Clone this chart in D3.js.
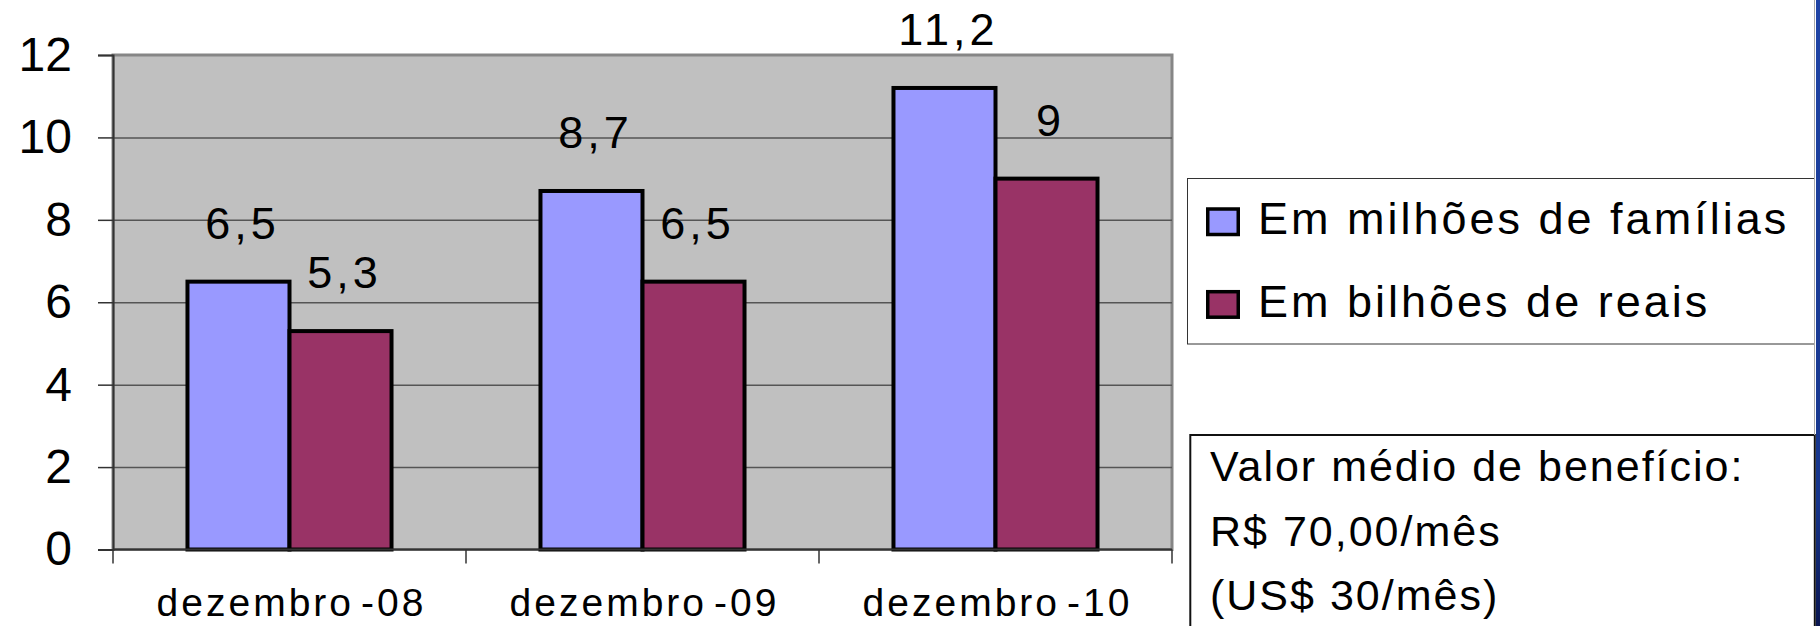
<!DOCTYPE html>
<html>
<head>
<meta charset="utf-8">
<script src="https://cdn.jsdelivr.net/npm/d3@7"></script>
<style>
  html, body { margin: 0; padding: 0; background: #fff; }
  svg { display: block; font-family: "Liberation Sans", Arial, sans-serif; }
</style>
</head>
<body>
<svg id="chart" width="1820" height="626"></svg>
<script>
'use strict';
// data
const categories = ['dezembro-08', 'dezembro-09', 'dezembro-10'];
const seriesNames = ['Em milhões de famílias', 'Em bilhões de reais'];
const familias = [6.5, 8.7, 11.2];
const reais = [5.3, 6.5, 9];
const yTicks = [0, 2, 4, 6, 8, 10, 12];
const infoLines = ['Valor médio de benefício:', 'R$ 70,00/mês', '(US$ 30/mês)'];

var chart = (function() {
    var exports = {},
        _svg = d3.select('#chart'),
        _plot = {left: 113, right: 1172, top: 55, bottom: 549.5},
        _colors = ['#9999FF', '#993366'],
        _x0, _x1, _y,
        _fmt = d3.formatLocale({decimal: ',', thousands: '.', grouping: [3], currency: ['R$', '']}).format('~g')
    ;
    exports.draw = function() {
        var series = [familias, reais];
        var rows = categories.map(function(c, i) {
            return {cat: c, values: series.map(function(s, k) { return {k: k, v: s[i]}; })};
        });

        _x0 = d3.scaleBand().domain(categories).range([_plot.left, _plot.right]).padding(0);
        _x1 = d3.scaleBand().domain([0, 1]).range([0, _x0.bandwidth()]).paddingInner(0).paddingOuter(0.73);
        _y = d3.scaleLinear().domain([0, 12]).range([_plot.bottom, _plot.top]);

        // plot area
        _svg.append('rect')
            .attr('x', _plot.left).attr('y', _plot.top)
            .attr('width', _plot.right - _plot.left)
            .attr('height', _plot.bottom - _plot.top)
            .attr('fill', '#C0C0C0')
            .attr('stroke', '#868686')
            .attr('stroke-width', 3);

        // gridlines
        _svg.append('g')
            .attr('transform', 'translate(' + _plot.left + ',0)')
            .call(d3.axisLeft(_y).tickValues(yTicks.filter(function(t) { return t > 0 && t < 12; }))
                .tickSize(-(_plot.right - _plot.left)).tickFormat(''))
            .call(function(g) {
                g.select('.domain').remove();
                g.selectAll('.tick line').attr('stroke', '#555').attr('stroke-width', 1.5);
            });

        // bars
        var groups = _svg.append('g').selectAll('g')
            .data(rows).enter().append('g')
            .attr('transform', function(d) { return 'translate(' + _x0(d.cat) + ',0)'; });
        groups.selectAll('rect')
            .data(function(d) { return d.values; }).enter().append('rect')
            .attr('x', function(d) { return _x1(d.k); })
            .attr('y', function(d) { return _y(d.v); })
            .attr('width', _x1.bandwidth())
            .attr('height', function(d) { return _y(0) - _y(d.v); })
            .attr('fill', function(d) { return _colors[d.k]; })
            .attr('stroke', '#000')
            .attr('stroke-width', 4);
        groups.selectAll('text')
            .data(function(d) { return d.values; }).enter().append('text')
            .attr('x', function(d) { return _x1(d.k) + _x1.bandwidth() / 2 + 4; })
            .attr('y', function(d) { return _y(d.v) - 43; })
            .attr('text-anchor', 'middle')
            .style('font-size', '45px')
            .style('letter-spacing', '4px')
            .attr('fill', '#000')
            .text(function(d) { return _fmt(d.v); });

        // y axis
        _svg.append('g')
            .attr('transform', 'translate(' + _plot.left + ',0)')
            .call(d3.axisLeft(_y).tickValues(yTicks).tickSize(15).tickPadding(26).tickFormat(d3.format('d')))
            .call(function(g) {
                g.select('.domain').attr('stroke', '#333').attr('stroke-width', 2);
                g.selectAll('.tick line').attr('stroke', '#333').attr('stroke-width', 1.5);
                g.selectAll('.tick text').attr('fill', '#000').style('font-size', '48px')
                    .style('font-family', '"Liberation Sans", Arial, sans-serif');
            });

        // x axis: line, boundary ticks, labels
        var xa = _svg.append('g');
        xa.append('line')
            .attr('x1', _plot.left).attr('x2', _plot.right)
            .attr('y1', _plot.bottom).attr('y2', _plot.bottom)
            .attr('stroke', '#333').attr('stroke-width', 2);
        var bounds = categories.map(function(c) { return _x0(c); }).concat([_x0.range()[1]]);
        xa.selectAll('line.tick')
            .data(bounds).enter().append('line')
            .attr('class', 'tick')
            .attr('x1', function(d) { return d; }).attr('x2', function(d) { return d; })
            .attr('y1', _plot.bottom).attr('y2', _plot.bottom + 14)
            .attr('stroke', '#333').attr('stroke-width', 1.5);
        var labels = xa.selectAll('text')
            .data(categories).enter().append('text')
            .attr('x', function(d) { return _x0(d) + _x0.bandwidth() / 2 + 2; })
            .attr('y', 616)
            .attr('text-anchor', 'middle')
            .style('font-size', '39px')
            .style('letter-spacing', '3px');
        // the reference leaves a wider gap before the year part
        labels.append('tspan').text(function(d) { return d.split('-')[0]; });
        labels.append('tspan').attr('dx', 7).text(function(d) { return '-' + d.split('-')[1]; });

        // legend
        var lg = _svg.append('g');
        lg.append('rect')
            .attr('x', 1187.5).attr('y', 178.5).attr('width', 627).attr('height', 165.5)
            .attr('fill', '#fff').attr('stroke', '#333').attr('stroke-width', 1);
        var items = lg.selectAll('g.item')
            .data(seriesNames).enter().append('g')
            .attr('class', 'item')
            .attr('transform', function(d, i) { return 'translate(0,' + (i * 82.7) + ')'; });
        items.append('rect')
            .attr('x', 1207.75).attr('y', 209).attr('width', 30.5).attr('height', 25.5)
            .attr('fill', function(d, i) { return _colors[i]; })
            .attr('stroke', '#000').attr('stroke-width', 3.5);
        items.append('text')
            .attr('x', 1258).attr('y', 234)
            .style('font-size', '45px')
            .style('letter-spacing', '3px')
            .text(function(d) { return d; });

        // info box
        var ib = _svg.append('g');
        ib.append('rect')
            .attr('x', 1190.3).attr('y', 435).attr('width', 624.5).attr('height', 260)
            .attr('fill', '#fff').attr('stroke', '#111').attr('stroke-width', 2);
        ib.selectAll('text')
            .data(infoLines).enter().append('text')
            .attr('x', 1210)
            .attr('y', function(d, i) { return 481 + i * 64.5; })
            .style('font-size', '43px')
            .style('letter-spacing', '2px')
            .text(function(d) { return d; });

        // slide edge on the right
        _svg.append('line')
            .attr('x1', 1814.5).attr('x2', 1814.5).attr('y1', 0).attr('y2', 435)
            .attr('stroke', '#aaa').attr('stroke-width', 1);
        var grad = _svg.append('defs').append('linearGradient')
            .attr('id', 'edge').attr('x1', 0).attr('x2', 0).attr('y1', 0).attr('y2', 1);
        grad.append('stop').attr('offset', '0%').attr('stop-color', '#1f44a6');
        grad.append('stop').attr('offset', '80%').attr('stop-color', '#17368c');
        grad.append('stop').attr('offset', '100%').attr('stop-color', '#0a1650');
        _svg.append('rect')
            .attr('x', 1816).attr('y', 0).attr('width', 4).attr('height', 626)
            .attr('fill', 'url(#edge)');
    };
    return exports;
})();
chart.draw();
</script>
</body>
</html>
